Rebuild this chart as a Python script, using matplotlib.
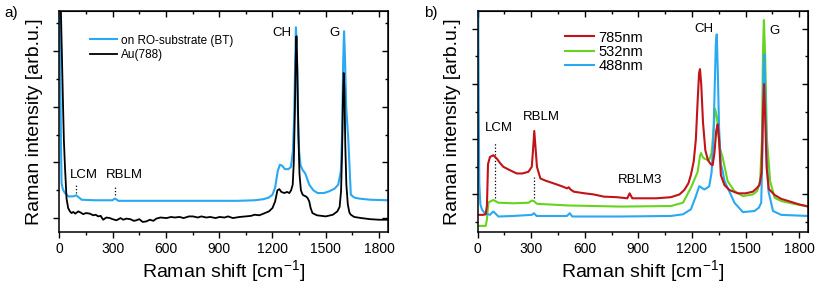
import matplotlib
matplotlib.use('Agg')
import matplotlib.pyplot as plt
from matplotlib.ticker import MultipleLocator, NullFormatter

plt.rcParams['font.family'] = ['Liberation Sans', 'DejaVu Sans']
plt.rcParams['mathtext.default'] = 'regular'

### Panel a) data - Raman shift [cm-1] and intensity [arb.u.]
# on RO-substrate (BT)
x_bt = [0, 3, 6, 10, 13, 20, 32, 51, 79, 95,
        107, 126, 200, 266, 300, 307, 315, 332, 400, 600,
        800, 1000, 1100, 1150, 1180, 1200, 1215, 1230, 1242, 1255,
        1270, 1290, 1304, 1315, 1322, 1328, 1332, 1336, 1342, 1350,
        1358, 1369, 1385, 1407, 1430, 1454, 1490, 1518, 1550, 1570,
        1585, 1592, 1598, 1603, 1608, 1615, 1627, 1641, 1660, 1688,
        1750, 1850]
y_bt = [4.0, 3.8, 2.5, 1.23, 0.63, 0.52, 0.45, 0.39, 0.39, 0.41,
        0.38, 0.33, 0.32, 0.32, 0.32, 0.34, 0.35, 0.31, 0.31, 0.31,
        0.31, 0.31, 0.32, 0.34, 0.37, 0.42, 0.55, 0.85, 0.96, 0.94,
        0.88, 0.88, 0.92, 1.20, 1.80, 2.80, 3.43, 3.20, 2.00, 1.20,
        0.95, 0.87, 0.80, 0.60, 0.50, 0.45, 0.45, 0.48, 0.53, 0.60,
        0.84, 1.50, 2.80, 3.36, 2.90, 2.00, 1.40, 0.42, 0.37, 0.35,
        0.33, 0.32]

# Au(788)
x_au = [0, 8, 13, 20, 26, 32, 41, 50, 60, 69,
        79, 90, 107, 120, 135, 150, 172, 191, 205, 219,
        233, 247, 265, 285, 300, 322, 345, 360, 378, 400,
        420, 434, 450, 470, 490, 510, 530, 546, 570, 603,
        630, 650, 677, 700, 730, 752, 780, 800, 827, 850,
        880, 902, 930, 950, 977, 1015, 1050, 1080, 1100, 1126,
        1150, 1180, 1200, 1215, 1228, 1239, 1250, 1267, 1282, 1295,
        1305, 1314, 1320, 1326, 1331, 1335, 1340, 1346, 1352, 1360,
        1370, 1380, 1388, 1398, 1407, 1415, 1425, 1450, 1500, 1540,
        1565, 1578, 1586, 1592, 1597, 1601, 1605, 1610, 1616, 1624,
        1633, 1641, 1660, 1700, 1750, 1800, 1850]
y_au = [4.0, 3.9, 3.2, 2.2, 1.4, 0.93, 0.35, 0.18, 0.12, 0.09,
        0.11, 0.08, 0.12, 0.10, 0.07, 0.09, 0.08, 0.05, 0.06, 0.03,
        0.04, -0.03, 0.01, 0.00, -0.02, -0.04, 0.00, -0.03, -0.01, -0.02,
        -0.05, -0.04, -0.02, -0.07, -0.06, -0.03, -0.05, -0.01, 0.01, 0.00,
        0.02, 0.01, 0.02, 0.00, 0.03, 0.03, 0.01, 0.03, 0.01, 0.02,
        0.00, 0.02, 0.01, 0.03, 0.00, 0.02, 0.03, 0.04, 0.06, 0.05,
        0.08, 0.12, 0.18, 0.30, 0.50, 0.52, 0.47, 0.45, 0.47, 0.45,
        0.50, 0.60, 1.00, 1.90, 2.90, 3.27, 2.70, 1.50, 0.80, 0.50,
        0.42, 0.40, 0.39, 0.36, 0.30, 0.18, 0.09, 0.05, 0.03, 0.06,
        0.12, 0.20, 0.48, 1.20, 2.20, 2.61, 2.30, 1.30, 0.60, 0.25,
        0.10, 0.06, 0.02, 0.00, -0.02, -0.03, -0.03]

### Panel b) data - three excitation wavelengths
x_785 = [0, 30, 45, 52, 58, 69, 88, 107, 125, 144,
         180, 219, 250, 284, 303, 310, 317, 324, 332, 351,
         380, 426, 470, 501, 510, 520, 538, 600, 650, 707,
         780, 838, 851, 866, 950, 1000, 1082, 1130, 1157, 1180,
         1194, 1210, 1222, 1232, 1240, 1245, 1252, 1262, 1275, 1290,
         1305, 1316, 1326, 1336, 1344, 1352, 1362, 1382, 1410, 1457,
         1500, 1541, 1565, 1578, 1590, 1598, 1604, 1610, 1618, 1630,
         1663, 1700, 1750, 1800, 1850]
y_785 = [-0.37, -0.37, -0.36, -0.20, 0.55, 0.68, 0.71, 0.65, 0.57, 0.50,
         0.44, 0.38, 0.38, 0.41, 0.50, 0.80, 1.15, 0.85, 0.50, 0.29,
         0.25, 0.20, 0.15, 0.11, 0.13, 0.09, 0.05, 0.02, 0.00, -0.04,
         -0.05, -0.07, 0.02, -0.07, -0.07, -0.07, -0.05, 0.00, 0.08, 0.20,
         0.35, 0.60, 1.00, 1.70, 2.20, 2.27, 2.00, 1.30, 0.80, 0.62,
         0.55, 0.53, 0.75, 1.15, 1.27, 1.00, 0.35, 0.17, 0.08, 0.02,
         0.02, 0.05, 0.12, 0.17, 0.40, 1.50, 2.00, 1.40, 0.50, 0.10,
         -0.01, -0.08, -0.13, -0.18, -0.22]

x_532 = [0, 45, 52, 60, 69, 88, 116, 200, 285, 303,
         315, 332, 510, 800, 1082, 1150, 1194, 1215, 1232, 1245,
         1251, 1260, 1269, 1285, 1297, 1310, 1322, 1330, 1340, 1355,
         1372, 1400, 1438, 1485, 1541, 1565, 1582, 1592, 1598, 1603,
         1610, 1620, 1638, 1663, 1700, 1800, 1850]
y_532 = [-0.57, -0.57, -0.45, -0.15, -0.13, -0.10, -0.15, -0.16, -0.15, -0.11,
         -0.12, -0.17, -0.20, -0.22, -0.21, -0.15, 0.12, 0.28, 0.41, 0.70,
         0.75, 0.68, 0.65, 0.63, 0.63, 0.75, 1.20, 1.55, 1.40, 0.85,
         0.67, 0.24, 0.06, -0.03, 0.00, 0.06, 0.24, 1.00, 2.60, 3.16,
         2.50, 1.00, 0.24, -0.06, -0.12, -0.19, -0.21]

x_488 = [0, 3, 6, 9, 15, 25, 40, 69, 80, 88,
         98, 116, 200, 303, 315, 330, 500, 516, 530, 800,
         1082, 1150, 1194, 1220, 1241, 1255, 1269, 1285, 1297, 1310,
         1320, 1328, 1334, 1339, 1345, 1352, 1362, 1372, 1382, 1391,
         1410, 1438, 1485, 1550, 1575, 1588, 1595, 1601, 1606, 1612,
         1620, 1629, 1654, 1700, 1850]
y_488 = [4.0, 3.5, 1.5, 0.2, -0.18, -0.28, -0.34, -0.37, -0.33, -0.31,
         -0.34, -0.40, -0.39, -0.37, -0.34, -0.39, -0.39, -0.34, -0.40, -0.40,
         -0.39, -0.36, -0.27, -0.05, 0.15, 0.12, 0.09, 0.12, 0.15, 0.40,
         1.00, 2.00, 2.75, 2.90, 2.20, 1.20, 0.55, 0.42, 0.25, 0.18,
         0.05, -0.15, -0.32, -0.30, -0.24, -0.15, 0.80, 2.30, 2.54, 1.60,
         0.60, 0.05, -0.30, -0.37, -0.39]

c_blue = '#2aa8f2'
c_red = '#c01418'
c_green = '#66d41e'

fig = plt.figure(figsize=(8.30, 2.94), dpi=100)
ax_a = fig.add_axes([0.0714, 0.211, 0.396, 0.7527])
ax_b = fig.add_axes([0.5755, 0.211, 0.398, 0.7527])


def style_axes(ax, ylim):
    ax.set_xlim(0, 1850)
    ax.set_ylim(*ylim)
    ax.xaxis.set_major_locator(MultipleLocator(300))
    ax.xaxis.set_minor_locator(MultipleLocator(150))
    ax.yaxis.set_major_locator(MultipleLocator(1))
    ax.yaxis.set_minor_locator(MultipleLocator(0.5))
    ax.yaxis.set_major_formatter(NullFormatter())
    ax.tick_params(which='major', direction='out', length=4, width=1.0,
                   labelsize=10, pad=3)
    ax.tick_params(which='minor', direction='out', length=2.2, width=1.0)
    for s in ax.spines.values():
        s.set_linewidth(1.1)
    # mirrored ticks on top and right pointing inwards
    top = ax.secondary_xaxis('top')
    top.xaxis.set_major_locator(MultipleLocator(300))
    top.xaxis.set_minor_locator(MultipleLocator(150))
    top.tick_params(which='major', direction='in', length=4, width=1.0,
                    labeltop=False)
    top.tick_params(which='minor', direction='in', length=2.2, width=1.0)
    right = ax.secondary_yaxis('right')
    right.yaxis.set_major_locator(MultipleLocator(1))
    right.yaxis.set_minor_locator(MultipleLocator(0.5))
    right.tick_params(which='major', direction='in', length=4, width=1.0,
                      labelright=False)
    right.tick_params(which='minor', direction='in', length=2.2, width=1.0)
    ax.set_xlabel(r'Raman shift [cm$^{-1}$]', fontsize=14, labelpad=2)
    ax.set_ylabel('Raman intensity [arb.u.]', fontsize=14, labelpad=5)


### Panel a)
ax_a.plot(x_bt, y_bt, color=c_blue, lw=1.5, label='on RO-substrate (BT)')
ax_a.plot(x_au, y_au, color='black', lw=1.3, label='Au(788)')
style_axes(ax_a, (-0.25, 3.73))
ax_a.legend(loc='upper left', bbox_to_anchor=(0.093, 0.892), frameon=False,
            fontsize=8.5, handlelength=2.3, handletextpad=0.3,
            labelspacing=0.2, borderpad=0, borderaxespad=0)
ann = dict(fontsize=9.5, ha='center', va='center')
ax_a.text(1255, 3.33, 'CH', **ann)
ax_a.text(1547, 3.33, 'G', **ann)
ax_a.text(139, 0.78, 'LCM', **ann)
ax_a.text(369, 0.78, 'RBLM', **ann)
ax_a.vlines([96], 0.45, 0.61, colors='black', linestyles=':', lw=0.9)
ax_a.vlines([311], 0.42, 0.58, colors='black', linestyles=':', lw=0.9)
fig.text(0.013, 0.955, 'a)', fontsize=11, ha='center', va='center')

### Panel b)
ax_b.plot(x_785, y_785, color=c_red, lw=1.5, label='785nm', zorder=2.4)
ax_b.plot(x_532, y_532, color=c_green, lw=1.5, label='532nm', zorder=2.2)
ax_b.plot(x_488, y_488, color=c_blue, lw=1.5, label='488nm', zorder=2.3)
style_axes(ax_b, (-0.68, 3.33))
ax_b.legend(loc='upper left', bbox_to_anchor=(0.264, 0.91), frameon=False,
            fontsize=10.5, handlelength=2.0, handletextpad=0.3,
            labelspacing=0.02, borderpad=0, borderaxespad=0)
ax_b.text(1267, 2.99, 'CH', **ann)
ax_b.text(1663, 2.96, 'G', **ann)
ax_b.text(116, 1.20, 'LCM', **ann)
ax_b.text(356, 1.41, 'RBLM', **ann)
ax_b.text(911, 0.26, 'RBLM3', **ann)
ax_b.vlines([97], -0.07, 0.93, colors='black', linestyles=':', lw=0.9)
ax_b.vlines([317], -0.07, 0.32, colors='black', linestyles=':', lw=0.9)
fig.text(0.519, 0.955, 'b)', fontsize=11, ha='center', va='center')

fig.savefig('out.png', dpi=100)
